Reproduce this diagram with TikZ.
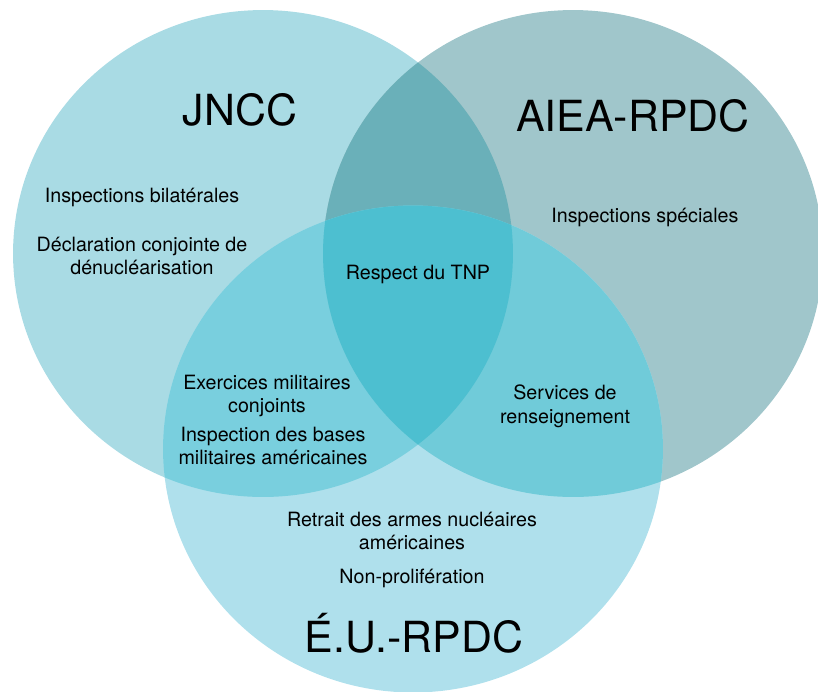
\documentclass[tikz,border=0pt]{standalone}
\usepackage{fontspec}
\setmainfont{TeX Gyre Heros}
\definecolor{jnccc}{HTML}{A9DBE4}
\definecolor{aieac}{HTML}{A0C6CB}
\definecolor{euc}{HTML}{AFE0EC}
\definecolor{jaic}{HTML}{6AB0B9}
\definecolor{jeuc}{HTML}{79CFDE}
\definecolor{aeuc}{HTML}{70CBD9}
\definecolor{allc}{HTML}{4DBFD0}
\tikzset{
  item/.style={align=center, font=\fontsize{11.2}{13.6}\selectfont},
  title/.style={font=\fontsize{24.4}{28}\selectfont}
}
\begin{document}
\begin{tikzpicture}[x=0.02cm, y=-0.02cm]
				\useasboundingbox (0,0) rectangle (818,691);
				\def\rx{5cm}
				\def\ry{4.87cm}
				\coordinate (J) at (263,253.5);
				\coordinate (A) at (573,253.5);
				\coordinate (E) at (413,449);
				% the three sets
				\fill[jnccc] (J) ellipse ({\rx} and {\ry});
				\fill[aieac] (A) ellipse ({\rx} and {\ry});
				\fill[euc] (E) ellipse ({\rx} and {\ry});
				% pairwise overlaps
				\begin{scope}
					\clip (J) ellipse ({\rx} and {\ry});
					\fill[jaic] (A) ellipse ({\rx} and {\ry});
					\fill[jeuc] (E) ellipse ({\rx} and {\ry});
				\end{scope}
				\begin{scope}
					\clip (A) ellipse ({\rx} and {\ry});
					\fill[aeuc] (E) ellipse ({\rx} and {\ry});
				\end{scope}
				\begin{scope}
					\clip (J) ellipse ({\rx} and {\ry});
					\clip (A) ellipse ({\rx} and {\ry});
					\fill[allc] (E) ellipse ({\rx} and {\ry});
				\end{scope}
				% labels
				\node[title] (jncc) at (240,110) {JNCC};
				\node[title] (aiea) at (633,116) {AIEA-RPDC};
				\node[title] (eu) at (414,633) {É.U.-RPDC};
				\node[item] (bilat) at (142,197) {Inspections bilatérales};
				\node[item] (decl) at (142,256) {Déclaration conjointe de\\dénucléarisation};
				\node[item] (tnp) at (418,274) {Respect du TNP};
				\node[item] (spec) at (645,217) {Inspections spéciales};
				\node[item] (exer) at (267,396) {Exercices militaires\\conjoints};
				\node[item] (bases) at (273,446) {Inspection des bases\\militaires américaines};
				\node[item] (rens) at (565,406) {Services de\\renseignement};
				\node[item] (retr) at (412,531) {Retrait des armes nucléaires\\américaines};
				\node[item] (nonp) at (412,578) {Non-prolifération};
\end{tikzpicture}
\end{document}
